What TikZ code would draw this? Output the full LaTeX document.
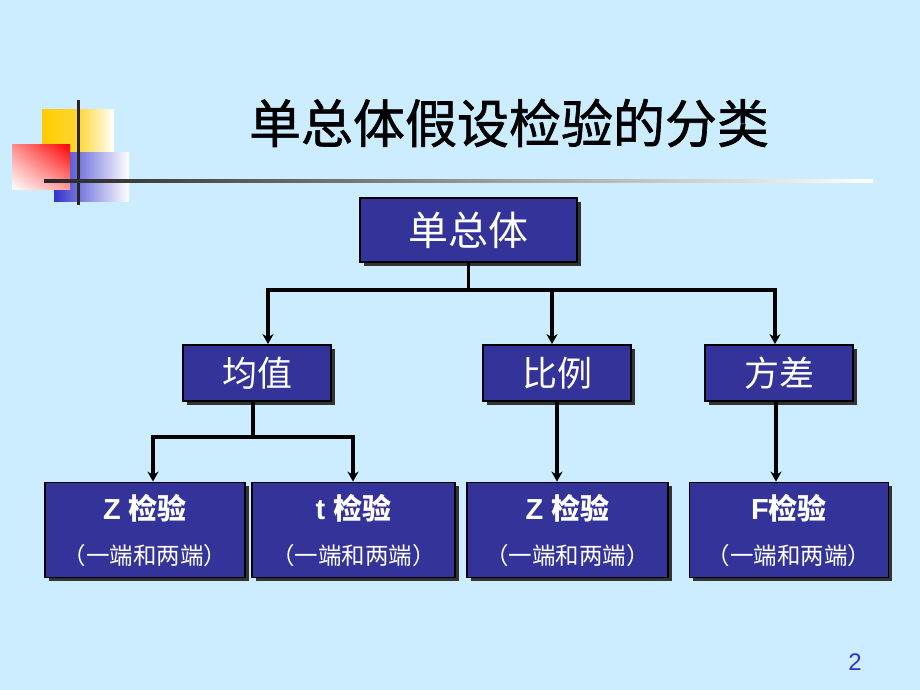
\documentclass[tikz,border=0pt]{standalone}
\usepackage{fontspec}
\setmainfont{Liberation Sans}
\newfontfamily\cjk{Noto Sans CJK SC}
\newfontfamily\cjktitle{Noto Sans CJK SC}[FakeBold=1.2]
\usetikzlibrary{shadows,shadings,arrows.meta}
\definecolor{bg}{RGB}{204,236,255}
\definecolor{boxblue}{RGB}{51,51,153}
\definecolor{pagenum}{RGB}{51,51,204}
\definecolor{logoyellow}{RGB}{255,204,0}
\definecolor{logoblue}{RGB}{51,51,204}
\begin{document}
\begin{tikzpicture}[x=1pt,y=-1pt,
  box/.style={draw=black, line width=1.8pt, fill=boxblue, text=white, inner sep=0pt,
    drop shadow={shadow xshift=3.5pt, shadow yshift=-3.5pt, fill=black!80, opacity=1}},
  lvl1/.style={box, minimum width=148pt, minimum height=56pt, font=\cjk\fontsize{35}{40}\selectfont},
  lvl2/.style={box, minimum height=95pt},
  main/.style={text=white, inner sep=0pt, font=\bfseries\fontsize{29}{32}\selectfont},
  sub/.style={text=white, inner sep=0pt, font=\cjk\fontsize{23.5}{25}\selectfont},
  conn/.style={line width=3.4pt, black, line cap=rect},
  arr/.style={line width=3.4pt, black, -{Stealth[length=10pt,width=11pt]}},
]
\fill[bg] (0,0) rectangle (920,690);
\useasboundingbox (0,0) rectangle (920,690);

% logo
\shade[left color=logoyellow, right color=white, middle color=logoyellow!80] (42,110) rectangle (114,152);
\shade[left color=logoblue, right color=white] (54,152) rectangle (129,201);
\shade[upper left=red!45, upper right=red, lower left=white, lower right=red!40] (12,144) rectangle (70,189);
\fill[black!85] (76.5,100) rectangle (79.5,205);
\shade[left color=black!85, right color=white] (44,179.5) rectangle (873,182.5);

% title
\node[font=\cjktitle\fontsize{52}{56}\selectfont, inner sep=0pt] (title) at (509,123) {单总体假设检验的分类};

% boxes
\node[box, minimum width=217pt, minimum height=64pt, font=\cjk\fontsize{40}{44}\selectfont] (root) at (468.5,230) {单总体};
\node[lvl1] (mean) at (257,373) {均值};
\node[lvl1] (prop) at (557,373) {比例};
\node[lvl1] (var) at (779,373) {方差};

\node[lvl2, minimum width=200pt] (z1) at (145,530) {};
\node[lvl2, minimum width=203pt] (tt) at (353.5,530) {};
\node[lvl2, minimum width=201pt] (z2) at (567.5,530) {};
\node[lvl2, minimum width=199pt] (ff) at (789,530) {};

\node[main] (z1a) at (145,508) {Z {\cjk 检验}};
\node[sub] (z1b) at (145,556) {（一端和两端）};
\node[main] (tta) at (353.5,508) {t {\cjk 检验}};
\node[sub] (ttb) at (353.5,556) {（一端和两端）};
\node[main] (z2a) at (567.5,508) {Z {\cjk 检验}};
\node[sub] (z2b) at (567.5,556) {（一端和两端）};
\node[main] (ffa) at (789,508) {F{\cjk 检验}};
\node[sub] (ffb) at (789,556) {（一端和两端）};

% connectors
\coordinate (busL) at (268,290);
\coordinate (busM) at (552,290);
\coordinate (busR) at (775,290);
\draw[conn] (root.south) -- (root.south |- busL);
\draw[conn] (busL) -- (busR);
\draw[arr] (busL) -- (busL |- mean.north);
\draw[arr] (busM) -- (busM |- prop.north);
\draw[arr] (busR) -- (busR |- var.north);

\coordinate (jL) at (153,437);
\coordinate (jM) at (253,437);
\coordinate (jR) at (353,437);
\draw[conn] (jM |- mean.south) -- (jM);
\draw[conn] (jL) -- (jR);
\draw[arr] (jL) -- (jL |- z1.north);
\draw[arr] (jR) -- (jR |- tt.north);
\draw[arr] (prop.south) -- (prop.south |- z2.north);
\draw[arr] ([xshift=-3pt]var.south) -- ([xshift=-3pt]var.south |- ff.north);

% page number
\node[text=pagenum, font=\fontsize{24}{26}\selectfont, inner sep=0pt] (pg) at (855,662) {2};
\end{tikzpicture}
\end{document}
